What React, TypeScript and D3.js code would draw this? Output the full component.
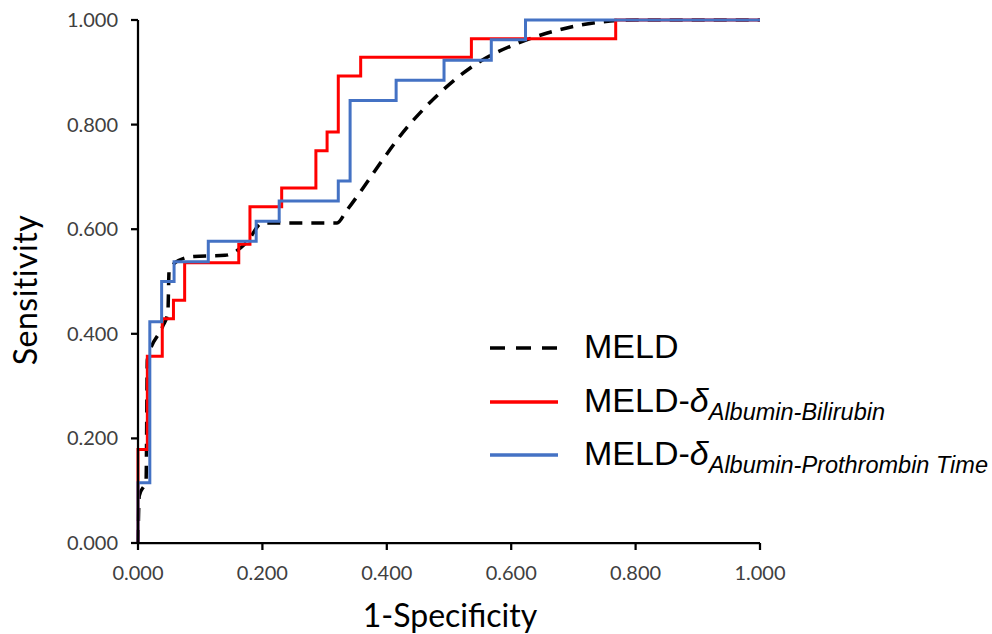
import React from 'react';
import * as d3 from 'd3';

const xTicks = [0, 0.2, 0.4, 0.6, 0.8, 1.0];
const yTicks = [0, 0.2, 0.4, 0.6, 0.8, 1.0];

// MELD (smoothed, dashed)
const meldFpr = [0, 0.002, 0.013, 0.015, 0.04, 0.048, 0.05, 0.065, 0.09, 0.14, 0.175, 0.2, 0.32, 0.335, 0.44, 0.58, 0.8, 1];
const meldTpr = [0, 0.09, 0.12, 0.35, 0.415, 0.44, 0.52, 0.54, 0.548, 0.55, 0.575, 0.612, 0.612, 0.635, 0.805, 0.94, 1, 1];

// MELD-δ Albumin-Bilirubin (step)
const bilFpr = [0, 0, 0.015, 0.039, 0.057, 0.075, 0.162, 0.18, 0.231, 0.286, 0.304, 0.322, 0.358, 0.536, 0.768, 1];
const bilTpr = [0, 0.179, 0.357, 0.429, 0.464, 0.536, 0.571, 0.643, 0.679, 0.75, 0.786, 0.893, 0.929, 0.964, 1, 1];

// MELD-δ Albumin-Prothrombin Time (step)
const ptFpr = [0, 0, 0.019, 0.038, 0.058, 0.113, 0.19, 0.227, 0.322, 0.341, 0.415, 0.492, 0.568, 0.623, 1];
const ptTpr = [0, 0.115, 0.423, 0.5, 0.538, 0.577, 0.615, 0.654, 0.692, 0.846, 0.885, 0.923, 0.962, 1, 1];

const seriesNames = ['MELD', 'MELD-δ', 'MELD-δ'];
const subscripts = ['', 'Albumin-Bilirubin', 'Albumin-Prothrombin Time'];
const colors = ['#000000', '#FF0000', '#4472C4'];

export default function App() {
  const W = 992, H = 634;
  const x = d3.scaleLinear().domain([0, 1]).range([138, 760]);
  const y = d3.scaleLinear().domain([0, 1]).range([543, 20]);
  const fmt = d3.format('.3f');

  const toPts = (xs: number[], ys: number[]) => xs.map((v, i) => [v, ys[i]] as [number, number]);
  const smooth = d3.line<[number, number]>().x(d => x(d[0])).y(d => y(d[1])).curve(d3.curveMonotoneX);
  const step = d3.line<[number, number]>().x(d => x(d[0])).y(d => y(d[1])).curve(d3.curveStepAfter);

  const tickFont = 'Lato, "Open Sans", sans-serif';
  const legFont = '"Liberation Sans", Arial, sans-serif';
  const legY = [348, 402, 455];

  return (
    <svg width={W} height={H} style={{ position: 'absolute', left: 0, top: 0, background: '#fff' }}>
      <rect width={W} height={H} fill="#fff" />
      {/* series */}
      <path d={smooth(toPts(meldFpr, meldTpr)) || ''} fill="none" stroke={colors[0]} strokeWidth={3.5} strokeDasharray="13 9" />
      <path d={step(toPts(bilFpr, bilTpr)) || ''} fill="none" stroke={colors[1]} strokeWidth={3} />
      <path d={step(toPts(ptFpr, ptTpr)) || ''} fill="none" stroke={colors[2]} strokeWidth={3} />

      {/* axes */}
      <line x1={x(0)} x2={x(1)} y1={y(0)} y2={y(0)} stroke="#000" strokeWidth={2.25} />
      <line x1={x(0)} x2={x(0)} y1={y(0)} y2={y(1)} stroke="#000" strokeWidth={2.25} />
      {xTicks.map(t => (
        <g key={'x' + t}>
          <line x1={x(t)} x2={x(t)} y1={y(0)} y2={y(0) + 7} stroke="#000" strokeWidth={2.25} />
          <text x={x(t)} y={580} textAnchor="middle" fontFamily={tickFont} fontSize={20} fill="#404040">{fmt(t)}</text>
        </g>
      ))}
      {yTicks.map(t => (
        <g key={'y' + t}>
          <line x1={x(0) - 7} x2={x(0)} y1={y(t)} y2={y(t)} stroke="#000" strokeWidth={2.25} />
          <text x={118} y={y(t) + 7} textAnchor="end" fontFamily={tickFont} fontSize={20} fill="#404040">{fmt(t)}</text>
        </g>
      ))}
      <text x={450} y={627} textAnchor="middle" fontFamily={tickFont} fontSize={32} fill="#000">1-Specificity</text>
      <text transform={`translate(37,290) rotate(-90)`} textAnchor="middle" fontFamily={tickFont} fontSize={32} letterSpacing={0.5} fill="#000">Sensitivity</text>

      {/* legend */}
      {seriesNames.map((name, i) => (
        <g key={'leg' + i}>
          <line x1={490} x2={558} y1={legY[i]} y2={legY[i]} stroke={colors[i]} strokeWidth={3.5}
            strokeDasharray={i === 0 ? '15 11' : undefined} />
          <text x={584} y={legY[i] + 10} fontFamily={legFont} fontSize={34} fill="#000">
            {name === 'MELD' ? 'MELD' : (<>
              <tspan>MELD-</tspan>
              <tspan fontStyle="italic">δ</tspan>
              <tspan fontStyle="italic" fontSize={23.5} dy={8}>{subscripts[i]}</tspan>
            </>)}
          </text>
        </g>
      ))}
    </svg>
  );
}
